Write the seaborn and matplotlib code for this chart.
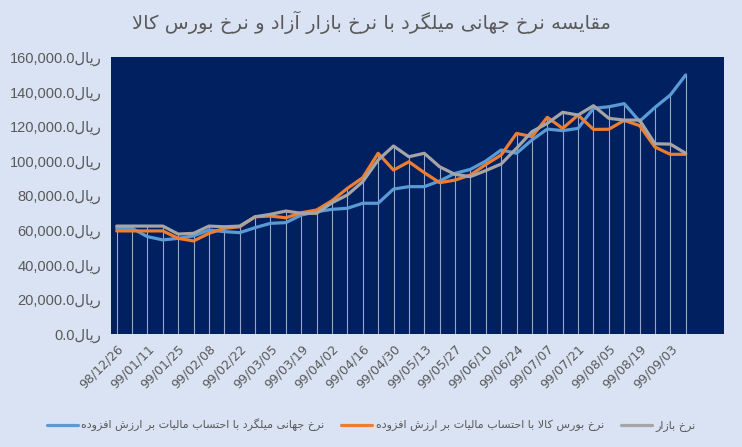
import pandas as pd
import matplotlib
matplotlib.use("Agg")
import matplotlib.pyplot as plt
import seaborn as sns
import numpy as np

# === data (rial) ===
dates = ["98/12/26", "99/01/04", "99/01/11", "99/01/18", "99/01/25", "99/02/01",
         "99/02/08", "99/02/15", "99/02/22", "99/02/29", "99/03/05", "99/03/12",
         "99/03/19", "99/03/26", "99/04/02", "99/04/09", "99/04/16", "99/04/23",
         "99/04/30", "99/05/06", "99/05/13", "99/05/20", "99/05/27", "99/06/03",
         "99/06/10", "99/06/17", "99/06/24", "99/06/31", "99/07/07", "99/07/14",
         "99/07/21", "99/07/28", "99/08/05", "99/08/12", "99/08/19", "99/08/26",
         "99/09/03", "99/09/10"]

world_vat = [61100, 61100, 56300, 54400, 55300, 56700, 60100, 59200, 58600, 61500,
             64000, 64400, 68800, 70700, 72100, 72700, 75600, 75600, 83800, 85200,
             85200, 88500, 92900, 95200, 100000, 106400, 104500, 112200, 118500, 117600,
             118900, 130500, 131400, 133200, 123000, 131000, 138200, 149800]

bourse_vat = [59600, 59600, 59600, 59600, 55300, 53800, 58200, 61100, 62000, 67800,
              68200, 67200, 70100, 71700, 77100, 84200, 90400, 104500, 94800, 99600,
              93300, 87500, 89000, 91900, 98000, 103500, 116000, 114100, 125300, 118900,
              126600, 118300, 118400, 123500, 120500, 108100, 103900, 103900]

market = [62400, 62400, 62400, 62400, 57800, 58200, 62400, 62000, 62400, 67800,
          69200, 71100, 69800, 69800, 75900, 80400, 88100, 100600, 108700, 102500,
          104500, 96700, 92300, 91000, 94500, 98300, 107400, 117000, 121800, 128200,
          126600, 132000, 124700, 123700, 123700, 110000, 109800, 104500]

series_names = ["نرخ جهانی میلگرد با احتساب مالیات بر ارزش افزوده",
                "نرخ بورس کالا با احتساب مالیات بر ارزش افزوده",
                "نرخ بازار"]
title_text = "مقایسه نرخ جهانی میلگرد با نرخ بازار آزاد و نرخ بورس کالا"
currency = "ریال"
y_ticks = [0, 20000, 40000, 60000, 80000, 100000, 120000, 140000, 160000]

colors = ["#5B9BD5", "#ED7D31", "#A5A5A5"]

# --- tiny arabic/persian shaper (matplotlib has no shaping / bidi) ---
FORMS = {  # isolated, final, initial, medial
    "ا": ("\uFE8D", "\uFE8E", None, None),
    "آ": ("\uFE81", "\uFE82", None, None),
    "ب": ("\uFE8F", "\uFE90", "\uFE91", "\uFE92"),
    "پ": ("\uFB56", "\uFB57", "\uFB58", "\uFB59"),
    "ت": ("\uFE95", "\uFE96", "\uFE97", "\uFE98"),
    "ج": ("\uFE9D", "\uFE9E", "\uFE9F", "\uFEA0"),
    "ح": ("\uFEA1", "\uFEA2", "\uFEA3", "\uFEA4"),
    "خ": ("\uFEA5", "\uFEA6", "\uFEA7", "\uFEA8"),
    "د": ("\uFEA9", "\uFEAA", None, None),
    "ر": ("\uFEAD", "\uFEAE", None, None),
    "ز": ("\uFEAF", "\uFEB0", None, None),
    "س": ("\uFEB1", "\uFEB2", "\uFEB3", "\uFEB4"),
    "ش": ("\uFEB5", "\uFEB6", "\uFEB7", "\uFEB8"),
    "ف": ("\uFED1", "\uFED2", "\uFED3", "\uFED4"),
    "ق": ("\uFED5", "\uFED6", "\uFED7", "\uFED8"),
    "ک": ("\uFB8E", "\uFB8F", "\uFB90", "\uFB91"),
    "گ": ("\uFB92", "\uFB93", "\uFB94", "\uFB95"),
    "ل": ("\uFEDD", "\uFEDE", "\uFEDF", "\uFEE0"),
    "م": ("\uFEE1", "\uFEE2", "\uFEE3", "\uFEE4"),
    "ن": ("\uFEE5", "\uFEE6", "\uFEE7", "\uFEE8"),
    "ه": ("\uFEE9", "\uFEEA", "\uFEEB", "\uFEEC"),
    "و": ("\uFEED", "\uFEEE", None, None),
    "ی": ("\uFBFC", "\uFBFD", "\uFBFE", "\uFBFF"),
}
LAM_ALEF = {"ا": ("\uFEFB", "\uFEFC"), "آ": ("\uFEF5", "\uFEF6")}


def rtl(text):
    out = []
    prev_joins = False
    i = 0
    while i < len(text):
        c = text[i]
        nxt = text[i + 1] if i + 1 < len(text) else ""
        if c not in FORMS:
            out.append(c)
            prev_joins = False
            i += 1
            continue
        if c == "ل" and nxt in LAM_ALEF:
            out.append(LAM_ALEF[nxt][1 if prev_joins else 0])
            prev_joins = False
            i += 2
            continue
        dual = FORMS[c][2] is not None
        next_joins = dual and nxt in FORMS
        if prev_joins and next_joins:
            f = FORMS[c][3]
        elif prev_joins:
            f = FORMS[c][1]
        elif next_joins:
            f = FORMS[c][2]
        else:
            f = FORMS[c][0]
        out.append(f)
        prev_joins = dual
        i += 1
    return "".join(reversed(out))


# long-form table for seaborn
pos = np.arange(len(dates))
df = pd.concat([
    pd.DataFrame({"pos": pos, "value": vals, "series": name})
    for name, vals in zip(series_names, [world_vat, bourse_vat, market])
])

sns.set_style("white")
plt.rcParams["font.family"] = ["DejaVu Sans"]

fig = plt.figure(figsize=(7.42, 4.47), dpi=100, facecolor="#DAE3F3")
ax = fig.add_axes([111 / 742, 1 - 334 / 447, (724 - 111) / 742, (334 - 57.3) / 447])
ax.set_facecolor("#002060")

# drop lines from the highest series down to the axis
top = np.max([world_vat, bourse_vat, market], axis=0)
ax.vlines(pos, 0, top, color="#9AA6C8", linewidth=0.8, zorder=1)

sns.lineplot(data=df, x="pos", y="value", hue="series", hue_order=series_names,
             palette=colors, linewidth=2.3, sort=False, ax=ax, zorder=3)

ax.set_xlim(-0.37, 39.49)
ax.set_ylim(0, 160000)
ax.set_yticks(y_ticks)
ax.set_yticklabels([f"{v:,.1f}" + rtl(currency) for v in y_ticks],
                   family=["Liberation Sans", "DejaVu Sans"])
ax.set_xticks(pos[::2])
ax.set_xticklabels([dates[i] for i in pos[::2]], rotation=45, ha="right",
                   rotation_mode="anchor")
ax.tick_params(axis="y", length=0, pad=7, labelsize=10.5, labelcolor="#595959")
ax.tick_params(axis="x", length=0, pad=6, labelsize=9, labelcolor="#595959")
ax.set_xlabel("")
ax.set_ylabel("")
for s in ax.spines.values():
    s.set_visible(False)

handles, _ = ax.get_legend_handles_labels()
ax.get_legend().remove()
fig.legend(handles, [rtl(n) for n in series_names], loc="center",
           bbox_to_anchor=(0.5, 1 - 425 / 447), ncol=3, frameon=False,
           fontsize=8, labelcolor="#595959", handlelength=2.8, columnspacing=1.5,
           handletextpad=0.3)

fig.text(0.5, 1 - 22 / 447, rtl(title_text), ha="center", va="center",
         fontsize=14, color="#595959")

plt.savefig("out.png", dpi=100, facecolor=fig.get_facecolor())
